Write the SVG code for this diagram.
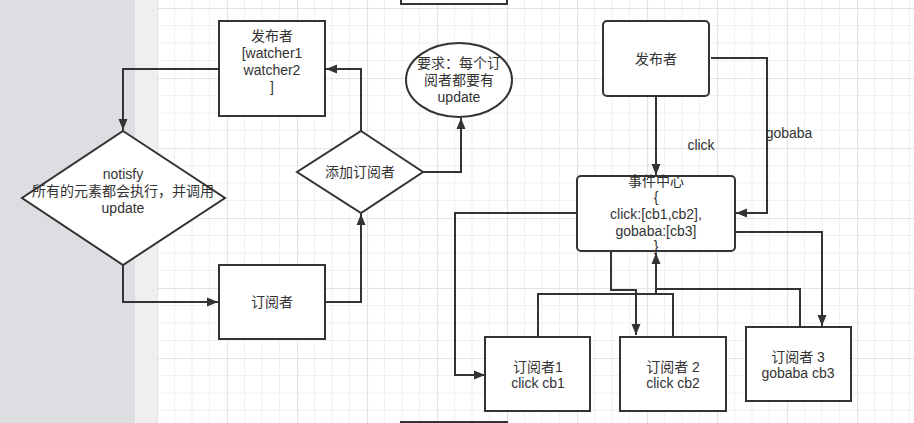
<svg xmlns="http://www.w3.org/2000/svg" width="914" height="423" viewBox="0 0 914 423">
<style>
.t{font-family:"Liberation Sans","Noto Sans CJK SC",sans-serif;font-size:14px;fill:#333;text-anchor:middle;dominant-baseline:central}
.s{fill:#fff;stroke:#333;stroke-width:2}
.c{fill:none;stroke:#333;stroke-width:2}
</style>
<defs>
<pattern id="grid" x="157" y="8" width="70" height="70" patternUnits="userSpaceOnUse">
<rect width="70" height="70" fill="#fff"/>
<path d="M17.5,0V70M35,0V70M52.5,0V70M0,17.5H70M0,35H70M0,52.5H70" stroke="#f0f0f0" stroke-width="1"/>
<path d="M0.5,0V70M0,0.5H70" stroke="#e3e3e3" stroke-width="1.2"/>
</pattern>
<marker id="a" markerUnits="userSpaceOnUse" markerWidth="12" markerHeight="10" refX="11" refY="5" orient="auto">
<path d="M0,0.5L11,5L0,9.5z" fill="#333"/>
</marker>
</defs>
<rect x="0" y="0" width="914" height="423" fill="url(#grid)"/>
<rect x="0" y="0" width="135" height="423" fill="#dcdee1"/>
<rect x="135" y="0" width="22" height="423" fill="#efefef"/>

<g id="partial-top"><rect class="s" x="401" y="-10" width="106" height="14"/></g>
<g id="partial-bottom"><rect class="s" x="401" y="422" width="106" height="20"/></g>

<g id="connectors">
<path class="c" d="M219,69H123V130" marker-end="url(#a)"/>
<path class="c" d="M123,265V302H218" marker-end="url(#a)"/>
<path class="c" d="M325,302H361V214" marker-end="url(#a)"/>
<path class="c" d="M361,131V69H326" marker-end="url(#a)"/>
<path class="c" d="M423,172H461V118" marker-end="url(#a)"/>
<path class="c" d="M656,96V175" marker-end="url(#a)"/>
<path class="c" d="M711,58H767V213H736" marker-end="url(#a)"/>
<path class="c" d="M577,213H455V375H485" marker-end="url(#a)"/>
<path class="c" d="M611,252V290H636V335" marker-end="url(#a)"/>
<path class="c" d="M735,232H822V326" marker-end="url(#a)"/>
<path class="c" d="M538,337V294H673V337"/>
<path class="c" d="M800,327V289H656V253" marker-end="url(#a)"/>
<path class="c" d="M656,294V289" stroke-width="3"/>
<text class="t" x="701" y="145">click</text>
<text class="t" x="789" y="133">gobaba</text>
</g>

<g id="publisher-left">
<rect class="s" x="219" y="21" width="106" height="95"/>
<text class="t" x="272" y="36">发布者</text>
<text class="t" x="272" y="53">[watcher1</text>
<text class="t" x="272" y="70">watcher2</text>
<text class="t" x="272" y="87">]</text>
</g>

<g id="notify">
<path class="s" d="M123,131L225,198L123,265L22,198z"/>
<text class="t" x="123" y="174">notisfy</text>
<text class="t" x="123" y="191">所有的元素都会执行，并调用</text>
<text class="t" x="123" y="208">update</text>
</g>

<g id="add-subscriber">
<path class="s" d="M361,131L423,172L361,213L297,172z"/>
<text class="t" x="360" y="172">添加订阅者</text>
</g>

<g id="subscriber-left">
<rect class="s" x="219" y="265" width="106" height="74"/>
<text class="t" x="272" y="302">订阅者</text>
</g>

<g id="requirement">
<ellipse class="s" cx="459" cy="80" rx="53" ry="37"/>
<text class="t" x="459" y="63">要求：每个订</text>
<text class="t" x="459" y="80">阅者都要有</text>
<text class="t" x="459" y="97">update</text>
</g>

<g id="publisher-right">
<rect class="s" x="603" y="21" width="106" height="75" rx="4"/>
<text class="t" x="656" y="59">发布者</text>
</g>

<g id="event-center">
<rect class="s" x="577" y="176" width="158" height="75" rx="4"/>
<text class="t" x="656" y="181">事件中心</text>
<text class="t" x="656" y="197">{</text>
<text class="t" x="656" y="214">click:[cb1,cb2],</text>
<text class="t" x="656" y="231">gobaba:[cb3]</text>
<text class="t" x="656" y="246">}</text>
</g>

<g id="subscriber1">
<rect class="s" x="485" y="337" width="105" height="74"/>
<text class="t" x="538" y="367">订阅者1</text>
<text class="t" x="538" y="383">click cb1</text>
</g>

<g id="subscriber2">
<rect class="s" x="620" y="337" width="106" height="74"/>
<text class="t" x="673" y="367">订阅者 2</text>
<text class="t" x="673" y="383">click cb2</text>
</g>

<g id="subscriber3">
<rect class="s" x="746" y="327" width="105" height="74"/>
<text class="t" x="798" y="357">订阅者 3</text>
<text class="t" x="798" y="373">gobaba cb3</text>
</g>
</svg>
